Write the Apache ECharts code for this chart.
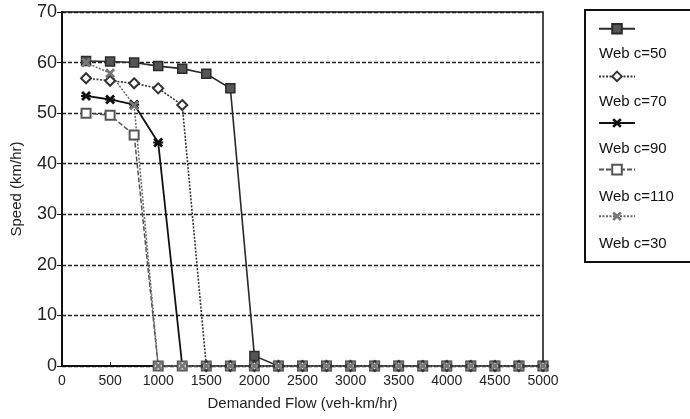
<!DOCTYPE html>
<html>
<head>
<meta charset="utf-8">
<script src="https://cdn.jsdelivr.net/npm/echarts@6/dist/echarts.min.js"></script>
<style>
  html, body { margin: 0; padding: 0; background: #fff; }
  #chart { width: 690px; height: 419px; }
</style>
</head>
<body>
<div id="chart"></div>
<script>
// ==================== Data ====================
const flows = [250, 500, 750, 1000, 1250, 1500, 1750, 2000, 2250, 2500,
               2750, 3000, 3250, 3500, 3750, 4000, 4250, 4500, 4750, 5000];
const seriesNames = ['Web c=50', 'Web c=70', 'Web c=90', 'Web c=110', 'Web c=30'];
const speedC50  = [60.3, 60.2, 60.0, 59.3, 58.8, 57.8, 54.9, 2.0, 0, 0, 0, 0, 0, 0, 0, 0, 0, 0, 0, 0];
const speedC70  = [56.9, 56.4, 55.9, 54.9, 51.6, 0, 0, 0, 0, 0, 0, 0, 0, 0, 0, 0, 0, 0, 0, 0];
const speedC90  = [53.4, 52.7, 51.7, 44.2, 0, 0, 0, 0, 0, 0, 0, 0, 0, 0, 0, 0, 0, 0, 0, 0];
const speedC110 = [50.0, 49.6, 45.7, 0, 0, 0, 0, 0, 0, 0, 0, 0, 0, 0, 0, 0, 0, 0, 0, 0];
const speedC30  = [60.0, 57.9, 51.5, 0, 0, 0, 0, 0, 0, 0, 0, 0, 0, 0, 0, 0, 0, 0, 0, 0];

// ==================== Marker shapes ====================
const crossPath = 'path://M0,2 L2,0 L5,3 L8,0 L10,2 L7,5 L10,8 L8,10 L5,7 L2,10 L0,8 L3,5 Z';
const asteriskPath = 'path://M0,2 L2,0 L5,3 L8,0 L10,2 L7,5 L10,8 L8,10 L5,7 L2,10 L0,8 L3,5 Z M0,4 L10,4 L10,6 L0,6 Z';

const FONT = '"Liberation Sans", Arial, sans-serif';

function pairs(ys) {
    return flows.map((x, i) => [x, ys[i]]);
}

function makeSeries(name, ys, opts) {
    return {
        name: name,
        type: 'line',
        data: pairs(ys),
        symbol: opts.symbol,
        symbolSize: opts.size,
        showAllSymbol: true,
        clip: false,
        lineStyle: { color: opts.color, width: opts.width, type: opts.type },
        itemStyle: { color: opts.fill, borderColor: opts.color, borderWidth: opts.border },
        emphasis: { disabled: true }
    };
}

// ==================== Chart ====================
const chart = echarts.init(document.getElementById('chart'), null, { renderer: 'canvas' });

chart.setOption({
    animation: false,
    backgroundColor: '#fff',
    textStyle: { fontFamily: FONT },
    grid: {
        left: 62, right: 147, top: 12, bottom: 53,
        show: true, borderColor: '#111', borderWidth: 1.5
    },
    xAxis: {
        type: 'value', min: 0, max: 5000, interval: 500,
        name: 'Demanded Flow (veh-km/hr)',
        nameLocation: 'middle', nameGap: 30,
        nameTextStyle: { fontSize: 15, color: '#222', fontFamily: FONT },
        axisLine: { show: true, lineStyle: { color: '#111', width: 2 } },
        axisTick: { show: true, inside: true, length: 4, lineStyle: { color: '#111' } },
        axisLabel: { fontSize: 14, color: '#222', margin: 8, fontFamily: FONT, formatter: v => String(v) },
        splitLine: { show: false }
    },
    yAxis: {
        type: 'value', min: 0, max: 70, interval: 10,
        name: 'Speed (km/hr)',
        nameLocation: 'middle', nameGap: 38, nameRotate: 90,
        nameTextStyle: { fontSize: 15, color: '#222', fontFamily: FONT },
        axisLine: { show: true, lineStyle: { color: '#111', width: 2 } },
        axisTick: { show: true, length: 5, lineStyle: { color: '#111' } },
        axisLabel: { fontSize: 18, color: '#222', margin: 5, fontFamily: FONT },
        splitLine: { show: true, lineStyle: { color: '#222', width: 1.3, type: [4, 2] } }
    },
    legend: [
        {
            // line samples only
            data: seriesNames,
            orient: 'vertical', left: 593, top: 18,
            itemWidth: 36, itemHeight: 12, itemGap: 36,
            formatter: () => '',
            textStyle: { fontSize: 10, lineHeight: 12 },
            selectedMode: false
        },
        {
            // labels only, set under each sample
            data: seriesNames.map(n => ({ name: n, icon: 'none' })),
            orient: 'vertical', left: 589, top: 40,
            itemWidth: 0, itemHeight: 18, itemGap: 29.5,
            textStyle: { fontSize: 15, lineHeight: 18, color: '#111', fontFamily: FONT },
            selectedMode: false
        }
    ],
    graphic: [{
        type: 'rect',
        shape: { x: 585, y: 10, width: 120, height: 252 },
        style: { fill: 'none', stroke: '#111', lineWidth: 2 },
        silent: true
    }],
    // drawing order: darker series underneath, light c=30 crosses on top
    series: [
        makeSeries('Web c=50', speedC50, { symbol: 'rect', size: 9, color: '#2a2a2a', fill: '#555', border: 1.5, width: 1.6, type: 'solid' }),
        makeSeries('Web c=90', speedC90, { symbol: asteriskPath, size: 10, color: '#111', fill: '#111', border: 0, width: 1.8, type: 'solid' }),
        makeSeries('Web c=110', speedC110, { symbol: 'emptyRect', size: 9, color: '#555', fill: '#555', border: 1.2, width: 1.5, type: [5, 2] }),
        makeSeries('Web c=70', speedC70, { symbol: 'emptyDiamond', size: 10, color: '#333', fill: '#333', border: 1.3, width: 1.6, type: [2, 1.5] }),
        makeSeries('Web c=30', speedC30, { symbol: crossPath, size: 10, color: '#666', fill: '#777', border: 0, width: 1.5, type: [2, 1.5] })
    ]
});

window.addEventListener('resize', () => chart.resize());
</script>
</body>
</html>
